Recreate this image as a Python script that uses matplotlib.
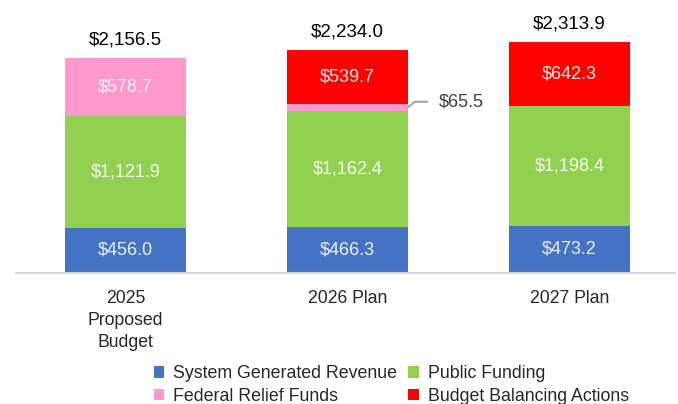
import matplotlib
matplotlib.use('Agg')
import matplotlib.pyplot as plt
import numpy as np

plt.rcParams['font.family'] = ['Liberation Sans', 'DejaVu Sans']

categories = ['2025\nProposed\nBudget', '2026 Plan', '2027 Plan']
system_revenue = [456.0, 466.3, 473.2]
public_funding = [1121.9, 1162.4, 1198.4]
federal_relief = [578.7, 65.5, 0.0]
budget_balancing = [0.0, 539.7, 642.3]
totals = [2156.5, 2234.0, 2313.9]

series = [
    ('System Generated Revenue', system_revenue, '#4472C4'),
    ('Public Funding', public_funding, '#92D050'),
    ('Federal Relief Funds', federal_relief, '#FF99CC'),
    ('Budget Balancing Actions', budget_balancing, '#FF0000'),
]

fig = plt.figure(figsize=(6.78, 4.04), dpi=100)
ax = fig.add_axes([16 / 678, 131 / 404, 659 / 678, 273 / 404])

x = np.arange(len(categories))
width = 0.545
bottom = np.zeros(len(categories))
handles = {}
for name, vals, color in series:
    vals = np.array(vals)
    bars = ax.bar(x, vals, width, bottom=bottom, color=color, label=name, edgecolor='none')
    handles[name] = bars
    # labels inside segments (small federal slice in 2026 gets a leader line instead)
    labs = []
    for v in vals:
        if v > 100:
            labs.append(f'${v:,.1f}')
        else:
            labs.append('')
    ax.bar_label(bars, labels=labs, label_type='center', color='white', alpha=0.9, fontsize=13)
    # leader line callout for small slices
    for i, v in enumerate(vals):
        if 0 < v <= 100:
            ax.annotate(f'${v:,.1f}', xy=(x[i] + width / 2, bottom[i] + v / 2),
                        xytext=(22, 4), textcoords='offset points',
                        ha='left', va='center', fontsize=13, color='#404040',
                        arrowprops=dict(arrowstyle='-', color='#A6A6A6', lw=1.5,
                                        connectionstyle='angle,angleA=0,angleB=39',
                                        shrinkA=6, shrinkB=0))
    bottom += vals

for i, t in enumerate(totals):
    ax.annotate(f'${t:,.1f}', xy=(x[i], bottom[i]), xytext=(0, 7), textcoords='offset points',
                ha='center', va='bottom', fontsize=13.5, color='black')

ax.set_xlim(-0.493, 2.475)
ax.set_ylim(0, 2738)
ax.set_xticks(x)
ax.set_xticklabels(categories, fontsize=12.7, color='#262626', linespacing=1.4)
ax.tick_params(axis='x', length=0, pad=12)
ax.set_yticks([])
for s in ['top', 'left', 'right']:
    ax.spines[s].set_visible(False)
ax.spines['bottom'].set_color('#D9D9D9')
ax.spines['bottom'].set_linewidth(1.5)

order = ['System Generated Revenue', 'Federal Relief Funds', 'Public Funding', 'Budget Balancing Actions']
fig.legend([handles[n] for n in order], order, loc='center', bbox_to_anchor=(0.577, 0.047),
           ncol=2, frameon=False, fontsize=12.8, handlelength=0.6, handleheight=0.6,
           handletextpad=0.5, columnspacing=0.6, labelspacing=0.3, borderpad=0,
           labelcolor='#262626')

fig.savefig('out.png', dpi=100)
